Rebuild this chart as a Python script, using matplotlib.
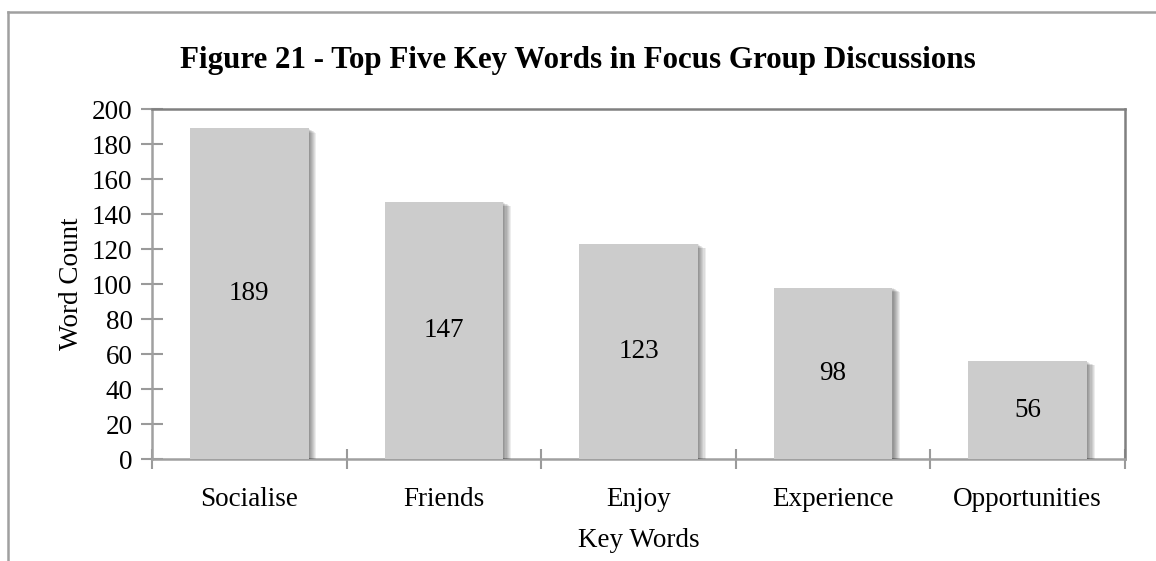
import matplotlib
matplotlib.use("Agg")
import matplotlib.pyplot as plt
import matplotlib.patheffects as pe
from matplotlib.lines import Line2D
import numpy as np

plt.rcParams['font.family'] = ['Liberation Serif', 'DejaVu Serif']

categories = ['Socialise', 'Friends', 'Enjoy', 'Experience', 'Opportunities']
counts = [189, 147, 123, 98, 56]
yticks = [0, 20, 40, 60, 80, 100, 120, 140, 160, 180, 200]

fig = plt.figure(figsize=(11.56, 5.61), dpi=100)
ax = fig.add_axes([0.1315, 0.1818, 0.8417, 0.6239])

x = np.arange(len(categories))
fs = 19.5

# soft drop shadow built from several offset copies
shadow = [pe.SimplePatchShadow(offset=(k * 0.8, -k * 0.45), shadow_rgbFace='black', alpha=0.07)
          for k in range(7, 0, -1)]
bars = ax.bar(x, counts, width=0.61, color='#cccccc', zorder=3,
              path_effects=shadow + [pe.Normal()])

for xi, v in zip(x, counts):
    ax.text(xi, v / 2, str(v), ha='center', va='center', fontsize=fs, color='black', zorder=4)

ax.set_xlim(-0.5, len(categories) - 0.5)
ax.set_ylim(0, 200)
ax.set_yticks(yticks)
ax.set_yticklabels([str(t) for t in yticks], fontsize=fs)

# category ticks sit on the boundaries, labels in the middle
ax.set_xticks(np.arange(-0.5, len(categories), 1.0))
ax.set_xticklabels([])
ax.set_xticks(x, minor=True)
ax.set_xticklabels(categories, minor=True, fontsize=fs)
ax.tick_params(axis='x', which='minor', length=0, pad=20)
ax.tick_params(axis='x', which='major', direction='inout', length=15, width=1.5, color='#9a9a9a')
ax.tick_params(axis='y', direction='inout', length=16, width=1.5, color='#9a9a9a', pad=6)

for side in ['left', 'bottom']:
    ax.spines[side].set_color('#a0a0a0')
    ax.spines[side].set_linewidth(1.8)
for side in ['top', 'right']:
    ax.spines[side].set_color('#808080')
    ax.spines[side].set_linewidth(1.8)

ax.set_xlabel('Key Words', fontsize=fs, labelpad=12)
ax.set_ylabel('Word Count', fontsize=fs, labelpad=6)

fig.text(0.5, 0.893, 'Figure 21 - Top Five Key Words in Focus Group Discussions',
         ha='center', va='center', fontsize=22.3, fontweight='bold')

# outer chart frame, cut off at right and bottom
fig.add_artist(Line2D([8 / 1156, 1.0], [1 - 12 / 561, 1 - 12 / 561],
                      transform=fig.transFigure, color='#a0a0a0', lw=1.8))
fig.add_artist(Line2D([8 / 1156, 8 / 1156], [0.0, 1 - 12 / 561],
                      transform=fig.transFigure, color='#a0a0a0', lw=1.8))

fig.savefig('out.png', dpi=100)
